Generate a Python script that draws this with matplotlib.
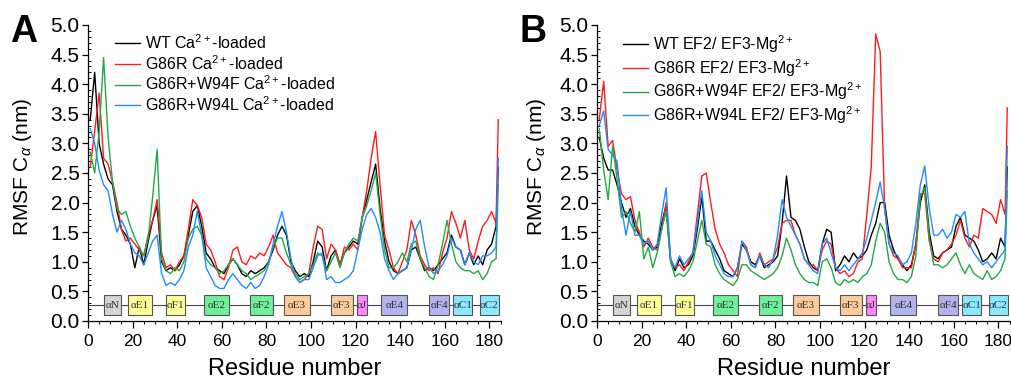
import numpy as np
import matplotlib
matplotlib.use("Agg")
import matplotlib.pyplot as plt
from matplotlib.patches import Rectangle
from matplotlib.ticker import MultipleLocator
from matplotlib import font_manager

plt.rcParams['font.family'] = ['Liberation Sans', 'DejaVu Sans']
plt.rcParams['mathtext.fontset'] = 'custom'
plt.rcParams['mathtext.rm'] = 'Liberation Sans'
plt.rcParams['mathtext.it'] = 'Liberation Sans:italic'
plt.rcParams['mathtext.bf'] = 'Liberation Sans:bold'

_names = {f.name for f in font_manager.fontManager.ttflist}
HAS_NARROW = 'Liberation Sans Narrow' in _names
NARROW = 'Liberation Sans Narrow' if HAS_NARROW else 'Liberation Sans'
XT_SIZE = 14 if HAS_NARROW else 12.5

# residue numbers at which RMSF was read
residues = list(range(1, 184, 2)) + [184]

# ---------------- Panel A : Ca2+-loaded ----------------
wt_ca = [3.40, 4.20, 3.00, 2.65, 2.40, 2.30, 1.85, 1.55, 1.45, 1.30,
         0.90, 1.25, 0.95, 1.35, 1.70, 1.95, 1.00, 0.85, 0.90, 0.85,
         0.95, 1.10, 1.45, 1.85, 1.95, 1.60, 1.15, 1.05, 0.90, 0.85,
         0.80, 0.95, 1.05, 0.95, 0.80, 0.75, 0.85, 0.80, 0.85, 0.90,
         1.00, 1.20, 1.45, 1.60, 1.45, 1.00, 0.85, 0.75, 0.80, 0.75,
         1.00, 1.35, 1.25, 0.85, 1.10, 1.20, 0.95, 1.15, 1.25, 1.35,
         1.30, 1.75, 2.05, 2.35, 2.65, 1.90, 1.35, 1.00, 0.85, 0.80,
         0.85, 0.90, 1.20, 1.25, 1.05, 0.85, 0.90, 0.85, 0.95, 1.05,
         1.15, 1.45, 1.25, 1.20, 0.95, 1.15, 0.95, 1.10, 0.95, 1.20,
         1.30, 1.60, 2.60]
g86r_ca = [2.60, 3.20, 3.85, 2.75, 2.65, 2.35, 2.00, 1.55, 1.35, 1.40,
           1.30, 1.20, 1.10, 1.45, 1.70, 2.05, 1.15, 0.90, 0.95, 0.85,
           1.00, 1.10, 1.55, 2.05, 1.95, 1.75, 1.30, 1.20, 1.00, 0.75,
           0.70, 0.90, 1.20, 1.25, 1.00, 0.95, 1.10, 1.05, 1.15, 1.10,
           1.25, 1.45, 1.15, 1.05, 0.95, 0.90, 0.75, 0.65, 0.70, 0.80,
           1.25, 1.60, 1.55, 1.05, 1.30, 1.20, 0.95, 1.25, 1.20, 1.30,
           1.20, 1.75, 2.20, 2.75, 3.20, 2.30, 1.45, 1.20, 0.90, 0.80,
           1.00, 1.20, 1.70, 1.45, 1.10, 0.95, 0.85, 0.90, 0.80, 1.15,
           1.40, 1.85, 1.65, 1.40, 1.70, 1.20, 1.05, 1.35, 1.60, 1.70,
           1.85, 1.65, 3.40]
w94f_ca = [2.85, 2.50, 3.20, 4.45, 3.10, 2.35, 1.90, 1.80, 1.85, 1.60,
           1.40, 1.25, 1.10, 1.40, 2.10, 2.90, 1.05, 0.85, 0.80, 0.90,
           0.85, 1.00, 1.40, 1.55, 1.60, 1.45, 1.05, 0.95, 0.90, 0.80,
           0.85, 0.95, 1.05, 0.95, 0.85, 0.80, 0.70, 0.75, 0.80, 0.85,
           1.00, 1.25, 1.40, 1.40, 1.15, 0.95, 0.80, 0.70, 0.75, 0.80,
           0.95, 1.15, 1.10, 0.85, 1.00, 1.15, 0.90, 1.15, 1.30, 1.40,
           1.35, 1.75, 1.95, 2.20, 2.50, 1.80, 1.20, 0.90, 0.90, 1.00,
           1.15, 1.00, 1.30, 1.35, 1.05, 0.90, 0.75, 0.70, 0.95, 1.30,
           1.70, 1.30, 1.00, 0.90, 0.85, 0.85, 0.80, 0.85, 0.70, 0.80,
           1.00, 1.05, 2.30]
w94l_ca = [3.25, 3.00, 2.55, 2.30, 2.20, 1.80, 1.50, 1.70, 1.55, 1.30,
           1.15, 1.10, 0.95, 1.15, 1.35, 1.45, 0.80, 0.60, 0.65, 0.60,
           0.70, 0.85, 1.25, 1.45, 1.85, 1.45, 0.90, 0.75, 0.60, 0.55,
           0.55, 0.70, 0.80, 0.70, 0.60, 0.55, 0.65, 0.55, 0.60, 0.75,
           0.95, 1.30, 1.60, 1.85, 1.50, 1.05, 0.75, 0.65, 0.70, 0.70,
           0.90, 1.10, 1.15, 0.70, 0.75, 0.65, 0.65, 0.70, 0.75, 0.85,
           1.20, 1.55, 1.80, 1.90, 1.75, 1.50, 1.05, 0.85, 0.70, 0.80,
           0.85, 0.90, 1.20, 1.55, 1.70, 1.25, 0.90, 0.80, 0.85, 0.95,
           1.10, 1.40, 1.25, 1.20, 0.95, 1.15, 1.00, 0.95, 1.10, 1.10,
           1.15, 1.25, 2.75]

# ---------------- Panel B : EF2/EF3-Mg2+ ----------------
wt_mg = [3.10, 2.75, 2.55, 2.55, 2.30, 2.00, 1.75, 1.90, 1.60, 1.45,
         1.35, 1.30, 1.20, 1.25, 1.65, 1.95, 1.05, 0.85, 1.05, 0.90,
         0.95, 1.10, 1.55, 2.10, 1.35, 1.35, 1.20, 1.05, 0.85, 0.80,
         0.75, 0.90, 1.30, 1.20, 1.00, 0.95, 1.10, 0.90, 0.95, 1.00,
         1.10, 1.65, 2.45, 1.75, 1.70, 1.55, 1.25, 1.00, 0.90, 0.85,
         1.30, 1.55, 1.50, 0.85, 0.95, 1.10, 1.00, 1.15, 1.05, 1.10,
         1.20, 1.45, 1.65, 2.00, 2.00, 1.45, 1.20, 1.05, 0.95, 0.85,
         0.95, 1.30, 2.00, 2.30, 1.50, 1.10, 1.05, 1.15, 1.20, 1.25,
         1.60, 1.75, 1.45, 1.40, 1.35, 1.20, 1.00, 1.05, 1.15, 1.05,
         1.40, 1.25, 2.60]
g86r_mg = [3.40, 4.05, 2.95, 3.05, 2.55, 2.15, 2.05, 2.10, 1.70, 1.50,
           1.25, 1.40, 1.25, 1.20, 1.55, 2.00, 1.00, 0.90, 0.95, 0.85,
           1.00, 1.15, 1.80, 2.45, 2.50, 2.00, 1.55, 1.30, 1.15, 0.95,
           0.85, 0.75, 1.35, 1.25, 0.95, 0.90, 1.15, 0.95, 1.00, 1.05,
           1.25, 1.65, 1.70, 1.70, 1.45, 1.30, 1.05, 0.95, 0.95, 0.85,
           1.20, 1.35, 1.30, 0.90, 0.80, 0.85, 0.75, 0.80, 1.00, 1.05,
           1.80, 2.60, 4.85, 4.55, 1.90, 1.30, 1.10, 1.05, 0.90, 0.90,
           0.90, 1.30, 2.15, 2.15, 1.35, 1.05, 1.00, 1.15, 1.20, 1.30,
           1.45, 1.70, 1.40, 1.25, 1.45, 1.40, 1.90, 1.85, 1.80, 1.65,
           2.05, 1.80, 3.60]
w94f_mg = [3.25, 2.55, 2.05, 2.95, 2.40, 1.75, 1.85, 1.65, 1.50, 1.85,
           1.05, 1.25, 0.90, 1.15, 1.55, 1.85, 1.00, 0.75, 0.80, 0.75,
           0.85, 1.00, 1.35, 1.70, 1.30, 1.25, 0.95, 0.80, 0.70, 0.65,
           0.60, 0.70, 0.95, 0.95, 0.85, 0.80, 0.75, 0.70, 0.75, 0.80,
           0.90, 1.10, 1.40, 1.20, 0.95, 0.80, 0.70, 0.65, 0.65, 0.60,
           1.00, 1.05, 0.90, 0.65, 0.60, 0.70, 0.65, 0.70, 0.65, 0.75,
           0.80, 0.95, 1.35, 1.65, 1.50, 1.00, 0.80, 0.70, 0.70, 0.65,
           0.75, 1.10, 2.10, 2.25, 1.40, 0.95, 0.95, 0.90, 0.95, 1.05,
           1.15, 0.95, 0.80, 0.95, 0.80, 0.75, 0.70, 0.85, 0.70, 0.75,
           0.85, 1.05, 2.20]
w94l_mg = [3.30, 3.55, 2.90, 2.80, 2.70, 1.90, 1.45, 1.85, 1.45, 1.45,
           1.30, 1.35, 1.20, 1.30, 1.80, 2.25, 1.05, 0.90, 1.10, 0.95,
           1.05, 1.15, 1.65, 2.20, 1.50, 1.35, 1.10, 0.95, 0.80, 0.75,
           0.75, 0.90, 1.35, 1.20, 0.95, 0.90, 1.10, 0.95, 0.90, 1.05,
           1.45, 2.05, 1.75, 1.60, 1.45, 1.30, 1.05, 0.95, 0.85, 0.80,
           1.30, 1.40, 1.15, 0.90, 0.85, 0.95, 0.85, 0.95, 1.05, 1.15,
           1.40, 1.70, 2.00, 2.35, 1.90, 1.30, 1.15, 1.10, 0.95, 1.00,
           1.15, 1.65, 2.30, 2.62, 1.90, 1.45, 1.45, 1.55, 1.40, 1.50,
           1.80, 1.75, 1.85, 1.30, 1.15, 1.05, 0.95, 1.00, 0.90, 1.00,
           1.10, 1.20, 2.95]

labels_A = ["WT C$\\mathregular{a^{2+}}$-loaded", "G86R C$\\mathregular{a^{2+}}$-loaded",
            "G86R+W94F C$\\mathregular{a^{2+}}$-loaded", "G86R+W94L C$\\mathregular{a^{2+}}$-loaded"]
labels_B = ["WT EF2/ EF3-M$\\mathregular{g^{2+}}$", "G86R EF2/ EF3-M$\\mathregular{g^{2+}}$",
            "G86R+W94F EF2/ EF3-M$\\mathregular{g^{2+}}$", "G86R+W94L EF2/ EF3-M$\\mathregular{g^{2+}}$"]
colors = ["#000000", "#ff1a1a", "#22a845", "#1e8cff"]

# secondary structure elements (name, start, end, colour)
ss_names = ["αN", "αE1", "αF1", "αE2", "αF2", "αE3", "αF3", "αJ", "αE4", "αF4", "αC1", "αC2"]
ss_start = [7.0, 17.8, 34.8, 51.8, 72.8, 87.7, 108.8, 120.8, 131.6, 152.8, 163.8, 175.7]
ss_end = [14.7, 28.5, 43.3, 63.3, 83.0, 99.4, 118.8, 125.0, 143.1, 162.0, 172.4, 184.3]
ss_colors = ["#d4d4d4", "#ffff99", "#ffff99", "#6ff09a", "#6ff09a", "#ffcc99", "#ffcc99",
             "#ff88ff", "#b3b3f0", "#b3b3f0", "#8ae8ff", "#8ae8ff"]

fig = plt.figure(figsize=(10.11, 3.85), dpi=100)
axA = fig.add_axes([88 / 1011, 64 / 385, 412.5 / 1011, 296 / 385])
axB = fig.add_axes([597 / 1011, 64 / 385, 412.5 / 1011, 296 / 385])


def draw(ax, series, labels, leg_x):
    for y, c, lab in zip(series, colors, labels):
        ax.plot(residues, y, color=c, lw=1.0, label=lab, zorder=3)
    # secondary-structure track
    ax.plot([0, ss_end[-1]], [0.27, 0.27], color="#444444", lw=0.8, zorder=2)
    for n, s, e, c in zip(ss_names, ss_start, ss_end, ss_colors):
        ax.add_patch(Rectangle((s, 0.10), e - s, 0.34, facecolor=c,
                               edgecolor="#555555", lw=0.8, zorder=2.5))
        ax.text((s + e) / 2, 0.27, n, ha="center", va="center", fontsize=8,
                family="Liberation Serif", color="#333333", zorder=2.6)
    ax.set_xlim(0, 185)
    ax.set_ylim(0, 5)
    ax.xaxis.set_major_locator(MultipleLocator(20))
    ax.xaxis.set_minor_locator(MultipleLocator(5))
    ax.yaxis.set_major_locator(MultipleLocator(0.5))
    ax.yaxis.set_minor_locator(MultipleLocator(0.1))
    ax.yaxis.set_major_formatter(matplotlib.ticker.FormatStrFormatter("%.1f"))
    for sp in ["top", "right"]:
        ax.spines[sp].set_visible(False)
    for sp in ["left", "bottom"]:
        ax.spines[sp].set_linewidth(0.9)
    ax.tick_params(axis="x", which="major", direction="out", length=5, width=0.9,
                   labelsize=XT_SIZE, pad=4, labelfontfamily=NARROW)
    ax.tick_params(axis="x", which="minor", direction="out", length=2.5, width=0.7)
    ax.tick_params(axis="y", which="major", direction="out", length=4, width=0.9,
                   labelsize=15, pad=2)
    ax.tick_params(axis="y", which="minor", direction="in", length=2.5, width=0.7)
    ax.set_xlabel("Residue number", fontsize=17)
    ax.set_ylabel("RMSF C$_{\\alpha}$ (nm)", fontsize=15)
    ax.xaxis.set_label_coords(0.5, -0.125)
    ax.legend(loc="upper left", bbox_to_anchor=(leg_x, 0.972), frameon=False,
              fontsize=11.5, handlelength=1.6, handletextpad=0.3,
              labelspacing=0.12, borderpad=0, borderaxespad=0)


draw(axA, [wt_ca, g86r_ca, w94f_ca, w94l_ca], labels_A, 0.065)
draw(axB, [wt_mg, g86r_mg, w94f_mg, w94l_mg], labels_B, 0.062)
axA.yaxis.set_label_coords(-0.13, 0.52)
axB.yaxis.set_label_coords(-0.119, 0.52)

fig.text(10 / 1011, 1 - 42 / 385, "A", fontsize=27, fontweight="bold", ha="left", va="baseline")
fig.text(520 / 1011, 1 - 42 / 385, "B", fontsize=27, fontweight="bold", ha="left", va="baseline")

fig.savefig("out.png", dpi=100)
